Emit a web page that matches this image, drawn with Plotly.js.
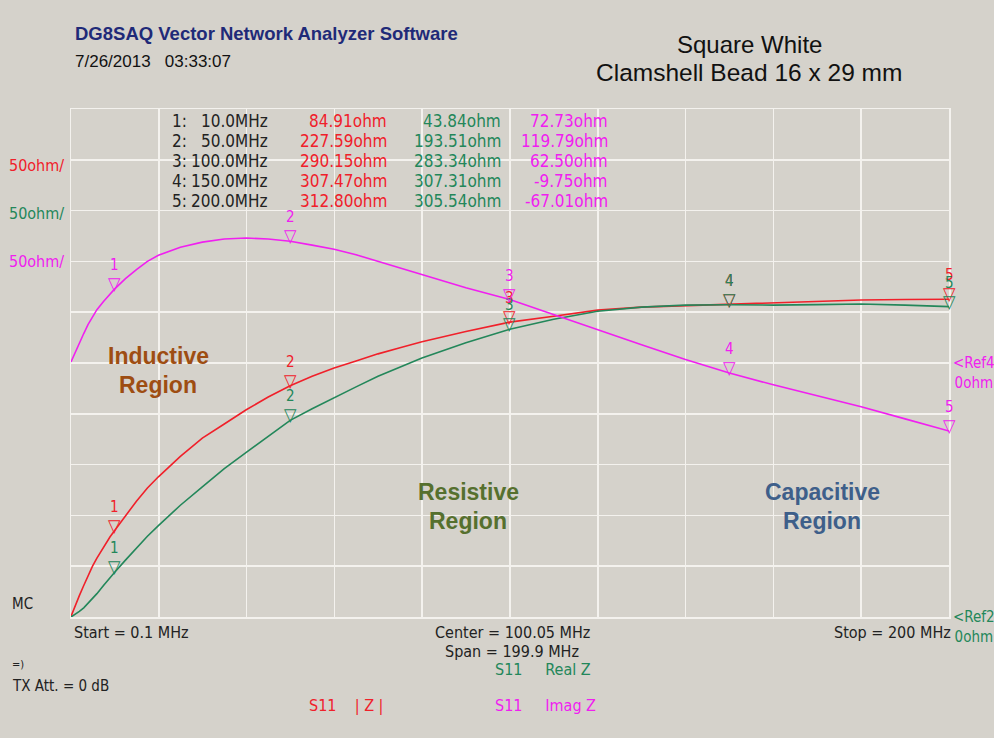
<!DOCTYPE html>
<html>
<head>
<meta charset="utf-8">
<script src="https://cdn.plot.ly/plotly-3.0.1.min.js"></script>
<style>
  html, body { margin: 0; padding: 0; background: #d5d2cb; }
  #chart { width: 994px; height: 738px; }
</style>
</head>
<body>
<div id="chart"></div>
<script>
// ---- Data ----
const freqMHz = [0.1, 0.5, 1, 1.5, 2, 3, 4, 5, 6, 7.5, 9, 10, 12.5, 15, 17.5, 20, 25, 30, 35, 40, 45, 50, 55, 60, 65, 70, 75, 80, 90, 100, 110, 120, 130, 140, 150, 160, 170, 180, 190, 200];
const absZ  = [0.5, 5, 10.5, 16, 21, 31, 41, 50, 58, 69, 79, 84.9, 100, 114, 127, 138, 158, 176, 190, 204, 216.5, 227.6, 237, 245, 252, 259, 265, 271, 281, 290.2, 296, 302, 305, 306.5, 307.5, 309, 310.5, 312, 312.5, 312.8];
const realZ = [0, 1, 2.5, 4, 5.5, 9, 13.5, 18.5, 23, 31, 39, 43.8, 56, 68, 79.5, 90, 110, 128, 146, 162, 178, 193.5, 205, 216, 226.5, 237, 246, 255, 270, 283.3, 293, 301, 305, 307, 307.3, 307, 307.5, 308, 307, 305.5];
const imagZ = [1, 5, 10, 15, 20, 29, 38, 46, 52.5, 60.5, 68, 72.7, 83, 92, 100, 106, 114, 119, 122, 123, 122, 119.8, 116, 112, 106.5, 100, 93, 86.5, 74, 62.5, 47.5, 32.5, 18, 3.5, -9.75, -21.5, -32, -43, -55, -67];

const markerFreq = [10.0, 50.0, 100.0, 150.0, 200.0];
const markerAbsZ = [84.91, 227.59, 290.15, 307.47, 312.80];
const markerReZ  = [43.84, 193.51, 283.34, 307.31, 305.54];
const markerImZ  = [72.73, 119.79, 62.50, -9.75, -67.01];

const startMHz = 0.1, stopMHz = 200;

// ---- Styling ----
const RED = '#f0202a', GREEN = '#23875a', MAG = '#f020f0';
const NARROW = '"Liberation Sans Narrow", "DejaVu Sans Condensed", "Arial Narrow", "Liberation Sans", sans-serif';
const ARIAL = '"Liberation Sans", Arial, sans-serif';
const GRID = '#f4f2ee';

const L = 71, R = 949, T = 109, B = 617, W = 994, H = 738;
function px(x) { return (x - L) / (R - L); }
function py(y) { return (B - y) / (B - T); }
function txt(x, y, text, color, size, opts) {
  return Object.assign({
    x: px(x), y: py(y), xref: 'paper', yref: 'paper', text: text, showarrow: false,
    xanchor: 'left', yanchor: 'middle',
    font: { family: NARROW, size: size, color: color }
  }, opts || {});
}
const SP = '&nbsp;';

const traces = [
  { x: freqMHz, y: absZ, mode: 'lines', line: { color: RED, width: 1.6 }, yaxis: 'y', hoverinfo: 'skip' },
  { x: freqMHz, y: realZ, mode: 'lines', line: { color: GREEN, width: 1.6 }, yaxis: 'y', hoverinfo: 'skip' },
  { x: freqMHz, y: imagZ, mode: 'lines', line: { color: MAG, width: 1.6 }, yaxis: 'y2', hoverinfo: 'skip' }
];

const ann = [];
// header
ann.push(txt(73, 33, 'DG8SAQ Vector Network Analyzer Software', '#1f2a78', 18, { font: { family: ARIAL, size: 18.5, color: '#1f2a78', weight: 'bold' } }));
ann.push(txt(73, 62, '7/26/2013' + SP + SP + SP + '03:33:07', '#111', 17, { font: { family: ARIAL, size: 17, color: '#111' } }));
ann.push(txt(749, 44, 'Square White', '#111', 24, { xanchor: 'center', font: { family: ARIAL, size: 24, color: '#111' } }));
ann.push(txt(749, 73, 'Clamshell Bead 16 x 29 mm', '#111', 24, { xanchor: 'center', font: { family: ARIAL, size: 24.5, color: '#111' } }));

// marker table
const rowY = [121, 141, 161, 181, 201];
markerFreq.forEach((f, i) => {
  ann.push(txt(170, rowY[i], (i + 1) + ':', '#222', 17));
  ann.push(txt(270, rowY[i], f.toFixed(1) + 'MHz', '#222', 17, { xanchor: 'right' }));
  ann.push(txt(389, rowY[i], markerAbsZ[i].toFixed(2) + 'ohm', RED, 17, { xanchor: 'right' }));
  ann.push(txt(503, rowY[i], markerReZ[i].toFixed(2) + 'ohm', GREEN, 17, { xanchor: 'right' }));
  ann.push(txt(610, rowY[i], markerImZ[i].toFixed(2) + 'ohm', MAG, 17, { xanchor: 'right' }));
});

// scale labels
ann.push(txt(7, 165, '50ohm/', RED, 16));
ann.push(txt(7, 213, '50ohm/', GREEN, 16));
ann.push(txt(7, 261, '50ohm/', MAG, 16));

// ref labels
ann.push(txt(951, 373, '&lt;Ref4<br>0ohm', MAG, 15));
ann.push(txt(951, 627, '&lt;Ref2<br>0ohm', GREEN, 15));

// bottom info
ann.push(txt(10, 604, 'MC', '#222', 15));
ann.push(txt(72, 632, 'Start = ' + startMHz + ' MHz', '#222', 16));
ann.push(txt(512, 632, 'Center = ' + ((startMHz + stopMHz) / 2).toFixed(2) + ' MHz', '#222', 16, { xanchor: 'center' }));
ann.push(txt(512, 651, 'Span = ' + (stopMHz - startMHz).toFixed(1) + ' MHz', '#222', 16, { xanchor: 'center' }));
ann.push(txt(953, 632, 'Stop = ' + stopMHz + ' MHz', '#222', 16, { xanchor: 'right' }));
ann.push(txt(10, 664, '=)', '#222', 11));
ann.push(txt(10, 686, 'TX Att.' + SP + '= 0 dB', '#222', 15));
ann.push(txt(493, 669, 'S11' + SP + SP + SP + SP + SP + 'Real Z', GREEN, 16));
ann.push(txt(307, 705, 'S11' + SP + SP + SP + SP + '|' + SP + 'Z' + SP + '|', RED, 16));
ann.push(txt(493, 705, 'S11' + SP + SP + SP + SP + SP + 'Imag Z', MAG, 16));

// region labels
const regFont = (c) => ({ family: ARIAL, size: 23, color: c, weight: 'bold' });
ann.push(txt(158, 356, 'Inductive', '#9e4d12', 23, { xanchor: 'center', font: regFont('#9e4d12') }));
ann.push(txt(158, 385, 'Region', '#9e4d12', 23, { xanchor: 'center', font: regFont('#9e4d12') }));
ann.push(txt(468, 492, 'Resistive', '#56702e', 23, { xanchor: 'center', font: regFont('#56702e') }));
ann.push(txt(468, 521, 'Region', '#56702e', 23, { xanchor: 'center', font: regFont('#56702e') }));
ann.push(txt(822, 492, 'Capacitive', '#3e5f8a', 23, { xanchor: 'center', font: regFont('#3e5f8a') }));
ann.push(txt(822, 521, 'Region', '#3e5f8a', 23, { xanchor: 'center', font: regFont('#3e5f8a') }));

// trace markers (number above a hollow down-triangle, tip on the trace)
function addMarkers(vals, color, yref) {
  markerFreq.forEach((f, i) => {
    ann.push({
      x: f, y: vals[i], xref: 'x', yref: yref,
      text: (i + 1) + '<br><span style="font-size:18px">▽</span>', showarrow: false,
      xanchor: 'center', yanchor: 'bottom', yshift: -7,
      font: { family: NARROW, size: 15, color: color }
    });
  });
}
addMarkers(markerAbsZ, RED, 'y');
addMarkers(markerReZ, GREEN, 'y');
addMarkers(markerImZ, MAG, 'y2');

const axisCommon = {
  showgrid: true, gridcolor: GRID, gridwidth: 1.5, zeroline: false,
  showticklabels: false, ticks: '', showline: true, linecolor: GRID, linewidth: 1.5, mirror: true, fixedrange: true
};

const layout = {
  width: W, height: H,
  margin: { l: L, r: W - R, t: T, b: H - B, pad: 0 },
  paper_bgcolor: '#d5d2cb', plot_bgcolor: '#d5d2cb',
  showlegend: false,
  xaxis: Object.assign({}, axisCommon, { range: [startMHz, stopMHz], tick0: startMHz, dtick: (stopMHz - startMHz) / 10 }),
  yaxis: Object.assign({}, axisCommon, { range: [0, 500], tick0: 0, dtick: 50 }),
  yaxis2: { overlaying: 'y', range: [-250, 250], visible: false, fixedrange: true },
  annotations: ann
};

Plotly.newPlot('chart', traces, layout, { staticPlot: true, displayModeBar: false });
</script>
</body>
</html>
